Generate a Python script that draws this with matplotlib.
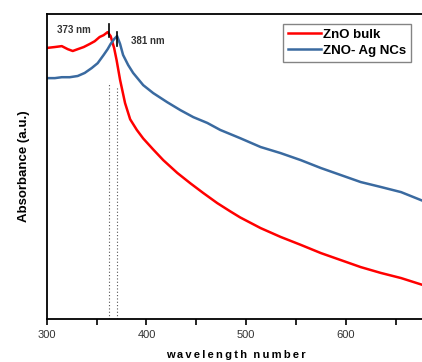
import matplotlib
matplotlib.use("Agg")
import matplotlib.pyplot as plt
from matplotlib.ticker import MultipleLocator

plt.rcParams["font.family"] = ["Liberation Sans", "DejaVu Sans"]

# ── Data ──────────────────────────────────────────────────────
wl_bulk = [300, 308, 315, 321, 326, 331, 337, 343, 348, 353, 357, 361, 364,
           367.5, 370, 373.5, 378.5, 383.6, 390.3, 396.7, 406.7, 416.8, 430.9,
           444, 457, 471, 484, 494, 514.5, 534.6, 554.8, 575, 595, 615, 635,
           655.5, 677.6]
abs_bulk = [0.889, 0.892, 0.895, 0.885, 0.879, 0.885, 0.892, 0.902, 0.911,
            0.925, 0.931, 0.941, 0.928, 0.889, 0.849, 0.784, 0.708, 0.655,
            0.620, 0.592, 0.556, 0.521, 0.479, 0.445, 0.413, 0.380, 0.353,
            0.333, 0.298, 0.269, 0.243, 0.216, 0.193, 0.170, 0.151, 0.134,
            0.111]

wl_ag = [300, 308, 315, 323, 331, 338, 345, 351, 357, 361, 364, 367.5, 370.5,
         373.5, 376.5, 381.6, 386.6, 396.7, 406.7, 420.8, 434, 447, 461, 474,
         494, 514.5, 534.6, 554.8, 575, 595, 615, 635, 655.5, 677.6]
abs_ag = [0.790, 0.790, 0.793, 0.793, 0.797, 0.807, 0.823, 0.839, 0.866,
          0.885, 0.902, 0.918, 0.928, 0.902, 0.866, 0.833, 0.807, 0.767,
          0.741, 0.711, 0.685, 0.662, 0.643, 0.620, 0.593, 0.564, 0.544,
          0.521, 0.495, 0.472, 0.449, 0.433, 0.416, 0.387]

peak_pos = [362.5, 370.5]
peak_labels = ["373 nm", "381 nm"]

# ── Plot ──────────────────────────────────────────────────────
fig = plt.figure(figsize=(4.22, 3.62), dpi=100)
ax = fig.add_axes([0.111, 0.119, 0.895, 0.842])

ax.plot(wl_bulk, abs_bulk, color="#ff0000", lw=1.8, label="ZnO bulk")
ax.plot(wl_ag, abs_ag, color="#3a6aa0", lw=1.8, label="ZNO- Ag NCs")

# peak markers
for xp, ytop in zip(peak_pos, [0.77, 0.76]):
    ax.plot([xp, xp], [0, ytop], color="#555555", lw=0.8, ls=(0, (1, 2)))
ax.plot([362.5, 362.5], [0.925, 0.967], color="black", lw=1.2)
ax.plot([370.5, 370.5], [0.897, 0.941], color="black", lw=1.2)
ax.text(310, 0.947, peak_labels[0], fontsize=7, color="#333333",
        fontweight="bold", va="center")
ax.text(384, 0.913, peak_labels[1], fontsize=7, color="#333333",
        fontweight="bold", va="center")

ax.set_xlim(300, 679)
ax.set_ylim(0, 1)
ax.xaxis.set_major_locator(MultipleLocator(100))
ax.xaxis.set_minor_locator(MultipleLocator(50))
ax.tick_params(axis="x", which="both", direction="out", length=4, width=1.2,
               labelsize=8, labelcolor="#333333", pad=4)
ax.set_yticks([])

for s in ["left", "bottom", "top"]:
    ax.spines[s].set_linewidth(1.3)
ax.spines["right"].set_visible(False)

ax.set_xlabel("\u2009".join("wavelength") + "  " + "\u2009".join("number"),
              fontsize=8, fontweight="bold", labelpad=7)
ax.set_ylabel("Absorbance (a.u.)", fontsize=9.5, fontweight="bold",
              labelpad=12)

leg = ax.legend(loc="upper right", bbox_to_anchor=(0.963, 0.968),
                prop={"weight": "bold", "size": 9.5},
                fancybox=False, handlelength=2.5, handletextpad=0.15,
                borderpad=0.35, labelspacing=0.3, borderaxespad=0)
leg.get_frame().set_edgecolor("#666666")
leg.get_frame().set_linewidth(1.0)

plt.savefig("out.png", dpi=100)
